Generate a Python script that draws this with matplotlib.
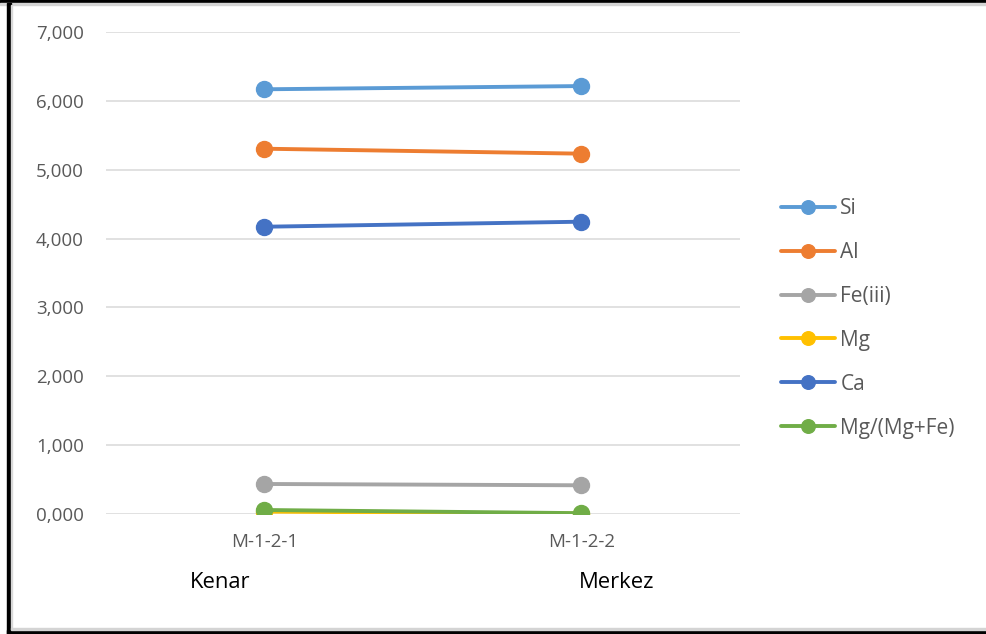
import matplotlib
matplotlib.use("Agg")
import matplotlib.pyplot as plt
from matplotlib.patches import Rectangle
from matplotlib.ticker import FuncFormatter, MultipleLocator

plt.rcParams['font.family'] = ['Open Sans', 'DejaVu Sans']

categories = ["M-1-2-1", "M-1-2-2"]
group_labels = ["Kenar", "Merkez"]
series_names = ["Si", "Al", "Fe(iii)", "Mg", "Ca", "Mg/(Mg+Fe)"]
si = [6.168, 6.215]
al = [5.305, 5.233]
fe3 = [0.436, 0.417]
mg = [0.035, 0.005]
ca = [4.172, 4.245]
mg_ratio = [0.058, 0.012]
series_values = [si, al, fe3, mg, ca, mg_ratio]
colors = ["#5B9BD5", "#ED7D31", "#A5A5A5", "#FFC000", "#4472C4", "#70AD47"]

W, H = 987, 634
fig = plt.figure(figsize=(W / 100, H / 100), dpi=100)

# plot area in pixel coordinates
left_px, right_px, top_px, bottom_px = 106, 740, 32, 514
ax = fig.add_axes([left_px / W, 1 - bottom_px / H,
                   (right_px - left_px) / W, (bottom_px - top_px) / H])

x = list(range(len(categories)))
for name, vals, c in zip(series_names, series_values, colors):
    ax.plot(x, vals, color=c, lw=2.8, marker='o', markersize=11.5,
            solid_capstyle='round', label=name, zorder=3)

ax.set_xlim(-0.5, len(categories) - 0.5)
ax.set_ylim(0, 7)
ax.yaxis.set_major_locator(MultipleLocator(1))
ax.yaxis.set_major_formatter(FuncFormatter(lambda v, p: f"{v:.3f}".replace('.', ',')))
ax.set_xticks(x)
ax.set_xticklabels(categories)
ax.grid(axis='y', color='#d9d9d9', lw=1.1, zorder=0)
for s in ax.spines.values():
    s.set_visible(False)
ax.tick_params(axis='both', length=0, labelsize=13.5, labelcolor='#595959')
ax.tick_params(axis='y', pad=16)
ax.tick_params(axis='x', pad=14)

# group captions under the category labels
for lbl, xp in zip(group_labels, [220, 617]):
    fig.text(xp / W, 1 - 582 / H, lbl, ha='center', va='center',
             fontsize=15.8, color='black')

leg = fig.legend(loc='upper left', bbox_to_anchor=(781 / W, 1 - 198 / H),
                 frameon=False, fontsize=15, labelcolor='#595959',
                 handlelength=2.6, handletextpad=0.25, labelspacing=1.1,
                 markerscale=0.85, borderaxespad=0, borderpad=0)

# frame around the picture
fig.patches.extend([
    Rectangle((0, 1 - 3 / H), 1, 3 / H, transform=fig.transFigure, color='black'),
    Rectangle((0, 1 - 5 / H), 1, 2 / H, transform=fig.transFigure, color='#d4d4d4'),
    Rectangle((7.5 / W, 0), 3.5 / W, 1 - 3 / H, transform=fig.transFigure, color='black'),
    Rectangle((11 / W, 4 / H), 1.5 / W, 1 - 9 / H, transform=fig.transFigure, color='#d8d8d8'),
    Rectangle((7.5 / W, 0), 1, 4 / H, transform=fig.transFigure, color='black'),
    Rectangle((11 / W, 4 / H), 1, 2.5 / H, transform=fig.transFigure, color='#d4d4d4'),
])

fig.savefig("out.png", dpi=100)
